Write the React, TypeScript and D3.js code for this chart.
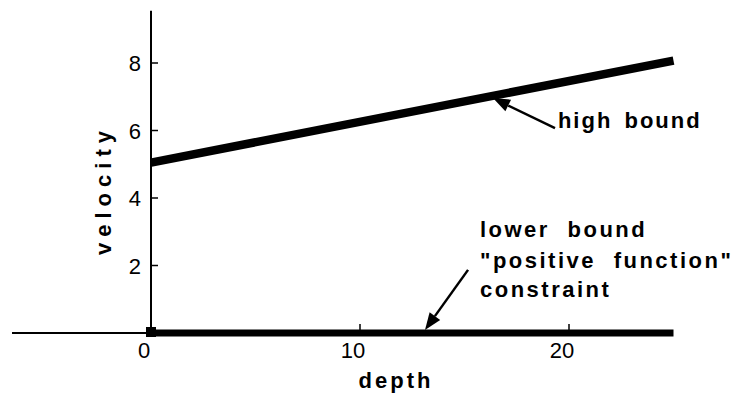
import React from "react";
import * as d3 from "d3";

const depthTicks = [0, 10, 20];
const velocityTicks = [2, 4, 6, 8];
const highDepth = [0, 25];
const highVelocity = [5.05, 8.07];
const lowDepth = [0, 25];
const lowVelocity = [0, 0];
const highLabel = ["high bound"];
const lowLabel = ["lower bound", "\"positive function\"", "constraint"];

const W = 740;
const H = 395;

export default function App() {
  const x = d3.scaleLinear().domain([0, 25]).range([151, 673.5]);
  const y = d3.scaleLinear().domain([0, 8]).range([333, 63]);
  const mk = (ds: number[], vs: number[]) =>
    d3
      .line<number>()
      .x((d) => x(d))
      .y((_, i) => y(vs[i]))(ds) as string;

  const arrow = (t0: [number, number], t1: [number, number]) => {
    const x0 = x(t0[0]), y0 = y(t0[1]), x1 = x(t1[0]), y1 = y(t1[1]);
    const ang = Math.atan2(y1 - y0, x1 - x0);
    const L = 17, Wd = 6.5;
    const bx = x1 - L * Math.cos(ang), by = y1 - L * Math.sin(ang);
    const px = -Math.sin(ang) * Wd, py = Math.cos(ang) * Wd;
    return (
      <g>
        <line x1={x0} y1={y0} x2={bx} y2={by} stroke="#000" strokeWidth={2.5} />
        <path d={`M${x1},${y1}L${bx + px},${by + py}L${bx - px},${by - py}Z`} fill="#000" />
      </g>
    );
  };

  const font = "'Liberation Sans', Arial, Helvetica, sans-serif";
  const lowY = [2.84, 1.93, 1.07];

  return (
    <svg width={W} height={H} style={{ position: "absolute", left: 0, top: 0, background: "#fff" }} fontFamily={font}>
      <rect width={W} height={H} fill="#fff" />
      <line x1={x(-6.65)} x2={x(0)} y1={y(0)} y2={y(0)} stroke="#000" strokeWidth={2} />
      <line x1={x(0)} x2={x(0)} y1={y(0)} y2={y(9.55)} stroke="#000" strokeWidth={2} />
      {velocityTicks.map((v) => (
        <g key={v}>
          <line x1={x(0) + 1} x2={x(0) + 7} y1={y(v)} y2={y(v)} stroke="#000" strokeWidth={1.5} />
          <text x={x(0) - 10} y={y(v) + 8} textAnchor="end" fontSize={22}>{v}</text>
        </g>
      ))}
      {depthTicks.map((d) => (
        <g key={d}>
          {d !== 0 && <line x1={x(d)} x2={x(d)} y1={y(0) - 9} y2={y(0) + 2} stroke="#000" strokeWidth={1.5} />}
          <text x={x(d) - 7} y={358} textAnchor="middle" fontSize={22}>{d}</text>
        </g>
      ))}
      <path d={mk(lowDepth, lowVelocity)} stroke="#000" strokeWidth={7} fill="none" />
      <rect x={x(0) - 5} y={y(0) - 6} width={10} height={10} fill="#000" />
      <path d={mk(highDepth, highVelocity)} stroke="#000" strokeWidth={8.5} fill="none" />
      <text x={396} y={388} textAnchor="middle" fontSize={22} fontWeight="bold" letterSpacing={3}>depth</text>
      <text transform={`translate(111,190) rotate(-90)`} textAnchor="middle" fontSize={22} fontWeight="bold" letterSpacing={6}>velocity</text>
      {arrow([19.33, 6.07], [16.36, 6.96])}
      {arrow([15.17, 1.87], [13.11, 0.09])}
      <text x={x(19.47)} y={y(6.07)} fontSize={22} fontWeight="bold" letterSpacing={2} wordSpacing={4}>{highLabel[0]}</text>
      {lowLabel.map((s, i) => (
        <text key={i} x={x(15.74)} y={y(lowY[i])} fontSize={22} fontWeight="bold" letterSpacing={2.5} wordSpacing={9}>{s}</text>
      ))}
    </svg>
  );
}
